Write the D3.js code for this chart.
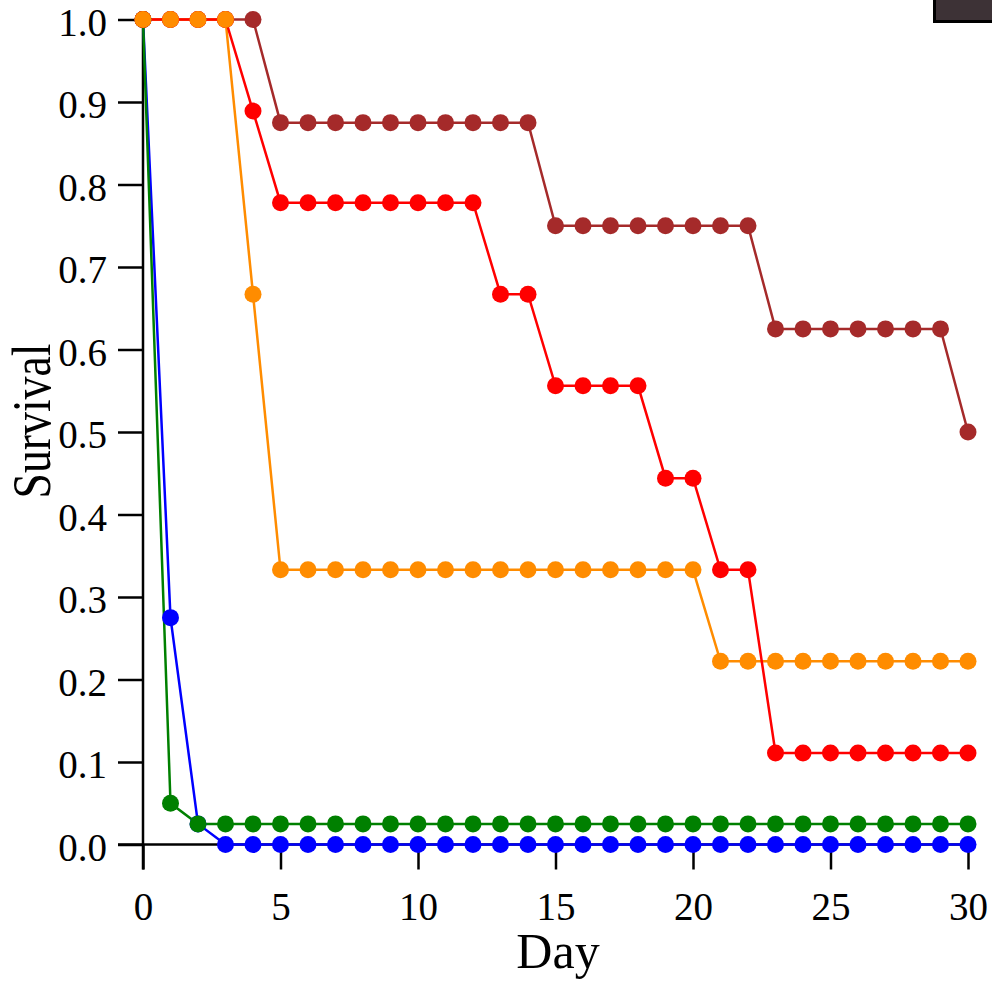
<!DOCTYPE html>
<html>
<head>
<meta charset="utf-8">
<script src="https://cdn.jsdelivr.net/npm/d3@7"></script>
<style>
  body { margin: 0; background: #fff; }
  svg { display: block; }
  text { font-family: "Liberation Serif", "Times New Roman", serif; }
</style>
</head>
<body>
<script>
// survival fraction per day, days 0..30
const days = d3.range(0, 31);
const xTicks = [0, 5, 10, 15, 20, 25, 30];
const yTicks = [0, 0.1, 0.2, 0.3, 0.4, 0.5, 0.6, 0.7, 0.8, 0.9, 1.0];

const blueVals = [1.0, 0.275, 0.025, 0, 0, 0, 0, 0, 0, 0, 0, 0, 0, 0, 0, 0,
  0, 0, 0, 0, 0, 0, 0, 0, 0, 0, 0, 0, 0, 0, 0];
const greenVals = [1.0, 0.05, 0.025, 0.025, 0.025, 0.025, 0.025, 0.025, 0.025, 0.025, 0.025,
  0.025, 0.025, 0.025, 0.025, 0.025, 0.025, 0.025, 0.025, 0.025, 0.025,
  0.025, 0.025, 0.025, 0.025, 0.025, 0.025, 0.025, 0.025, 0.025, 0.025];
const brownVals = [1.0, 1.0, 1.0, 1.0, 1.0, 0.875, 0.875, 0.875, 0.875, 0.875, 0.875,
  0.875, 0.875, 0.875, 0.875, 0.75, 0.75, 0.75, 0.75, 0.75, 0.75,
  0.75, 0.75, 0.625, 0.625, 0.625, 0.625, 0.625, 0.625, 0.625, 0.5];
const redVals = [1.0, 1.0, 1.0, 1.0, 0.889, 0.778, 0.778, 0.778, 0.778, 0.778, 0.778,
  0.778, 0.778, 0.667, 0.667, 0.556, 0.556, 0.556, 0.556, 0.444, 0.444,
  0.333, 0.333, 0.111, 0.111, 0.111, 0.111, 0.111, 0.111, 0.111, 0.111];
const orangeVals = [1.0, 1.0, 1.0, 1.0, 0.667, 0.333, 0.333, 0.333, 0.333, 0.333, 0.333,
  0.333, 0.333, 0.333, 0.333, 0.333, 0.333, 0.333, 0.333, 0.333, 0.333,
  0.222, 0.222, 0.222, 0.222, 0.222, 0.222, 0.222, 0.222, 0.222, 0.222];

// draw order: lines first, then dots
const lineOrder = [
  { vals: blueVals, color: '#0000ff' },
  { vals: greenVals, color: '#008000' },
  { vals: brownVals, color: '#a52a2a' },
  { vals: orangeVals, color: '#ff8c00' },
  { vals: redVals, color: '#ff0000' }
];
const dotOrder = [
  { vals: blueVals, color: '#0000ff' },
  { vals: greenVals, color: '#008000' },
  { vals: brownVals, color: '#a52a2a' },
  { vals: redVals, color: '#ff0000' },
  { vals: orangeVals, color: '#ff8c00' }
];

const W = 992, H = 984;
const tick = 25;

const x = d3.scaleLinear().domain([0, 30]).range([143, 968]);
const y = d3.scaleLinear().domain([0, 1]).range([844.5, 19.5]);

const svg = d3.select('body').append('svg')
  .attr('width', W)
  .attr('height', H);

// legend box, mostly off the top-right edge
svg.append('rect')
  .attr('x', 934.5).attr('y', -30)
  .attr('width', 80).attr('height', 51.5)
  .attr('fill', '#3d3236')
  .attr('stroke', '#000')
  .attr('stroke-width', 3);

// axes
let gx = svg.append('g')
  .attr('transform', `translate(0,${y(0)})`)
  .call(d3.axisBottom(x).tickValues(xTicks).tickSize(tick).tickPadding(23)
    .tickFormat(d3.format('d')));
let gy = svg.append('g')
  .attr('transform', `translate(${x(0)},0)`)
  .call(d3.axisLeft(y).tickValues(yTicks).tickSize(tick).tickPadding(11)
    .tickFormat(d3.format('.1f')));

[gx, gy].forEach(function(g) {
  g.select('.domain').remove();
  g.selectAll('.tick line').attr('stroke', '#000').attr('stroke-width', 2.5);
  g.selectAll('.tick text')
    .attr('fill', '#000')
    .style('font-size', '39px')
    .style('font-family', '"Liberation Serif", serif');
});
gy.selectAll('.tick text').attr('dy', '0.4em');

svg.append('line')
  .attr('x1', x(0) - tick).attr('x2', x(30))
  .attr('y1', y(0)).attr('y2', y(0))
  .attr('stroke', '#000').attr('stroke-width', 2.5);
svg.append('line')
  .attr('x1', x(0)).attr('x2', x(0))
  .attr('y1', y(1)).attr('y2', y(0) + tick)
  .attr('stroke', '#000').attr('stroke-width', 2.5);

// axis titles
svg.append('text')
  .attr('x', 558).attr('y', 968)
  .attr('text-anchor', 'middle')
  .style('font-size', '50px')
  .text('Day');
svg.append('text')
  .attr('transform', 'translate(50,421) rotate(-90)')
  .attr('text-anchor', 'middle')
  .style('font-size', '55px')
  .attr('textLength', 155)
  .attr('lengthAdjust', 'spacingAndGlyphs')
  .text('Survival');

const line = d3.line()
  .x((d, i) => x(days[i]))
  .y(d => y(d));

lineOrder.forEach(function(s) {
  svg.append('path')
    .datum(s.vals)
    .attr('d', line)
    .attr('fill', 'none')
    .attr('stroke', s.color)
    .attr('stroke-width', 2.5);
});

dotOrder.forEach(function(s) {
  svg.append('g')
    .attr('fill', s.color)
    .selectAll('circle')
    .data(s.vals)
    .join('circle')
    .attr('cx', (d, i) => x(days[i]))
    .attr('cy', d => y(d))
    .attr('r', 8.5);
});
</script>
</body>
</html>
